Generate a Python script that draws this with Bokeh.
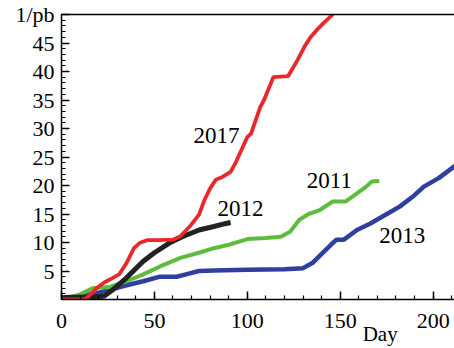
from bokeh.plotting import figure
from bokeh.models import FixedTicker, LinearAxis, Range1d
from bokeh.core.properties import value
from bokeh.embed import file_html
from bokeh.resources import INLINE

# 2011 (green)
days_2011 = [0, 5, 10, 17, 26, 35, 44, 53, 64, 74, 82, 90, 100, 110, 118, 123, 128, 133, 139, 146, 153, 159, 164, 167, 171]
lumi_2011 = [0, 0.4, 0.9, 2.0, 2.2, 3.2, 4.4, 5.8, 7.3, 8.2, 9.0, 9.6, 10.6, 10.8, 11.0, 11.9, 14.0, 15.0, 15.7, 17.2, 17.2, 18.6, 19.8, 20.7, 20.8]

# 2012 (black)
days_2012 = [0, 5, 10, 15, 20, 23, 28, 35, 44, 50, 58, 65, 74, 82, 88, 91]
lumi_2012 = [0.3, 0.4, 0.4, 0.5, 0.5, 0.6, 1.8, 3.8, 6.7, 8.2, 9.9, 11.0, 12.2, 12.8, 13.3, 13.5]

# 2013 (blue)
days_2013 = [0, 10, 20, 26, 35, 44, 53, 62, 68, 74, 82, 100, 120, 130, 135, 140, 145, 148, 152, 159, 166, 173, 182, 190, 195, 203, 212]
lumi_2013 = [0, 0.6, 1.2, 1.7, 2.5, 3.2, 4.0, 4.0, 4.5, 5.0, 5.1, 5.2, 5.3, 5.5, 6.4, 8.0, 9.6, 10.5, 10.5, 12.2, 13.3, 14.6, 16.3, 18.3, 19.8, 21.3, 23.5]

# 2017 (red)
days_2017 = [0, 8, 13, 16, 19, 23, 26, 31, 35, 39, 42, 46, 52, 60, 64, 69, 74, 77, 80, 83, 86, 91, 94, 100, 102, 107, 109, 114, 118, 122, 127, 131, 134, 138, 141, 145, 147]
lumi_2017 = [0, 0, 0.1, 1.0, 2.0, 3.0, 3.5, 4.4, 6.4, 9.0, 9.9, 10.4, 10.4, 10.5, 11.1, 12.8, 14.9, 17.5, 19.5, 21.0, 21.4, 22.4, 24.2, 28.5, 29.1, 33.8, 35.0, 39.0, 39.1, 39.2, 42.0, 44.5, 46.0, 47.5, 48.5, 49.7, 50.5]

series_labels = ["2017", "2012", "2011", "2013"]
label_x = [71, 84, 132, 171]
label_y = [28.7, 16.0, 20.9, 11.3]

x_ticks = [0, 50, 100, 150, 200]
y_ticks = [5, 10, 15, 20, 25, 30, 35, 40, 45, 50]
y_tick_labels = {50: "1/pb"}
x_title = "Day"
x_title_pos = 171.5

FONT = "Liberation Serif"
AXFONT = "'Liberation Serif', 'Times New Roman', serif"

p = figure(width=454, height=348, output_backend="svg", toolbar_location=None,
           x_range=Range1d(0, 211.5), y_range=Range1d(0, 50),
           min_border_left=61, min_border_right=0, min_border_top=14, min_border_bottom=48)
p.xgrid.visible = False
p.ygrid.visible = False
p.outline_line_color = None
p.background_fill_color = "white"
p.border_fill_color = "white"

p.line(days_2013, lumi_2013, line_color="#2f3f9e", line_width=4.5)
p.line(days_2011, lumi_2011, line_color="#5cbd3c", line_width=4)
p.line(days_2012, lumi_2012, line_color="#222222", line_width=5)
p.line(days_2017, lumi_2017, line_color="#e8282b", line_width=3.8)

p.text(x=label_x, y=label_y, text=series_labels, text_font=value(FONT),
       text_font_size="23px", text_color="black", text_baseline="alphabetic")

for ax in (p.xaxis[0], p.yaxis[0]):
    ax.axis_line_color = "black"
    ax.axis_line_width = 1.5
    ax.major_tick_line_color = "black"
    ax.minor_tick_line_color = "black"
    ax.major_tick_line_width = 1.5
    ax.minor_tick_line_width = 1.2
    ax.major_tick_in = 8
    ax.major_tick_out = 0
    ax.minor_tick_in = 4
    ax.minor_tick_out = 0
    ax.major_label_text_font = AXFONT
    ax.major_label_text_font_size = "22px"
    ax.major_label_text_color = "black"

p.xaxis[0].ticker = FixedTicker(ticks=x_ticks, minor_ticks=list(range(0, 212, 10)))
p.yaxis[0].ticker = FixedTicker(ticks=y_ticks, minor_ticks=list(range(0, 51, 1)))
p.yaxis[0].major_label_overrides = y_tick_labels
p.xaxis[0].major_label_standoff = 14
p.xaxis[0].major_label_text_line_height = 0.9
p.yaxis[0].major_label_standoff = 7

top = LinearAxis(ticker=FixedTicker(ticks=[]), major_label_text_font_size="0px",
                 axis_line_color="black", axis_line_width=1.5)
top.major_tick_line_color = None
top.minor_tick_line_color = None
p.add_layout(top, "above")

# second bottom axis carrying only the "Day" title
day_ax = LinearAxis(ticker=FixedTicker(ticks=[x_title_pos]),
                    major_label_overrides={x_title_pos: x_title},
                    axis_line_color=None, major_tick_line_color=None, minor_tick_line_color=None,
                    major_label_text_font=AXFONT, major_label_text_font_size="21px",
                    major_label_text_line_height=0.9,
                    major_label_text_color="black", major_label_standoff=-15)
p.add_layout(day_ax, "below")

open("out.html", "w").write(file_html(p, INLINE))
